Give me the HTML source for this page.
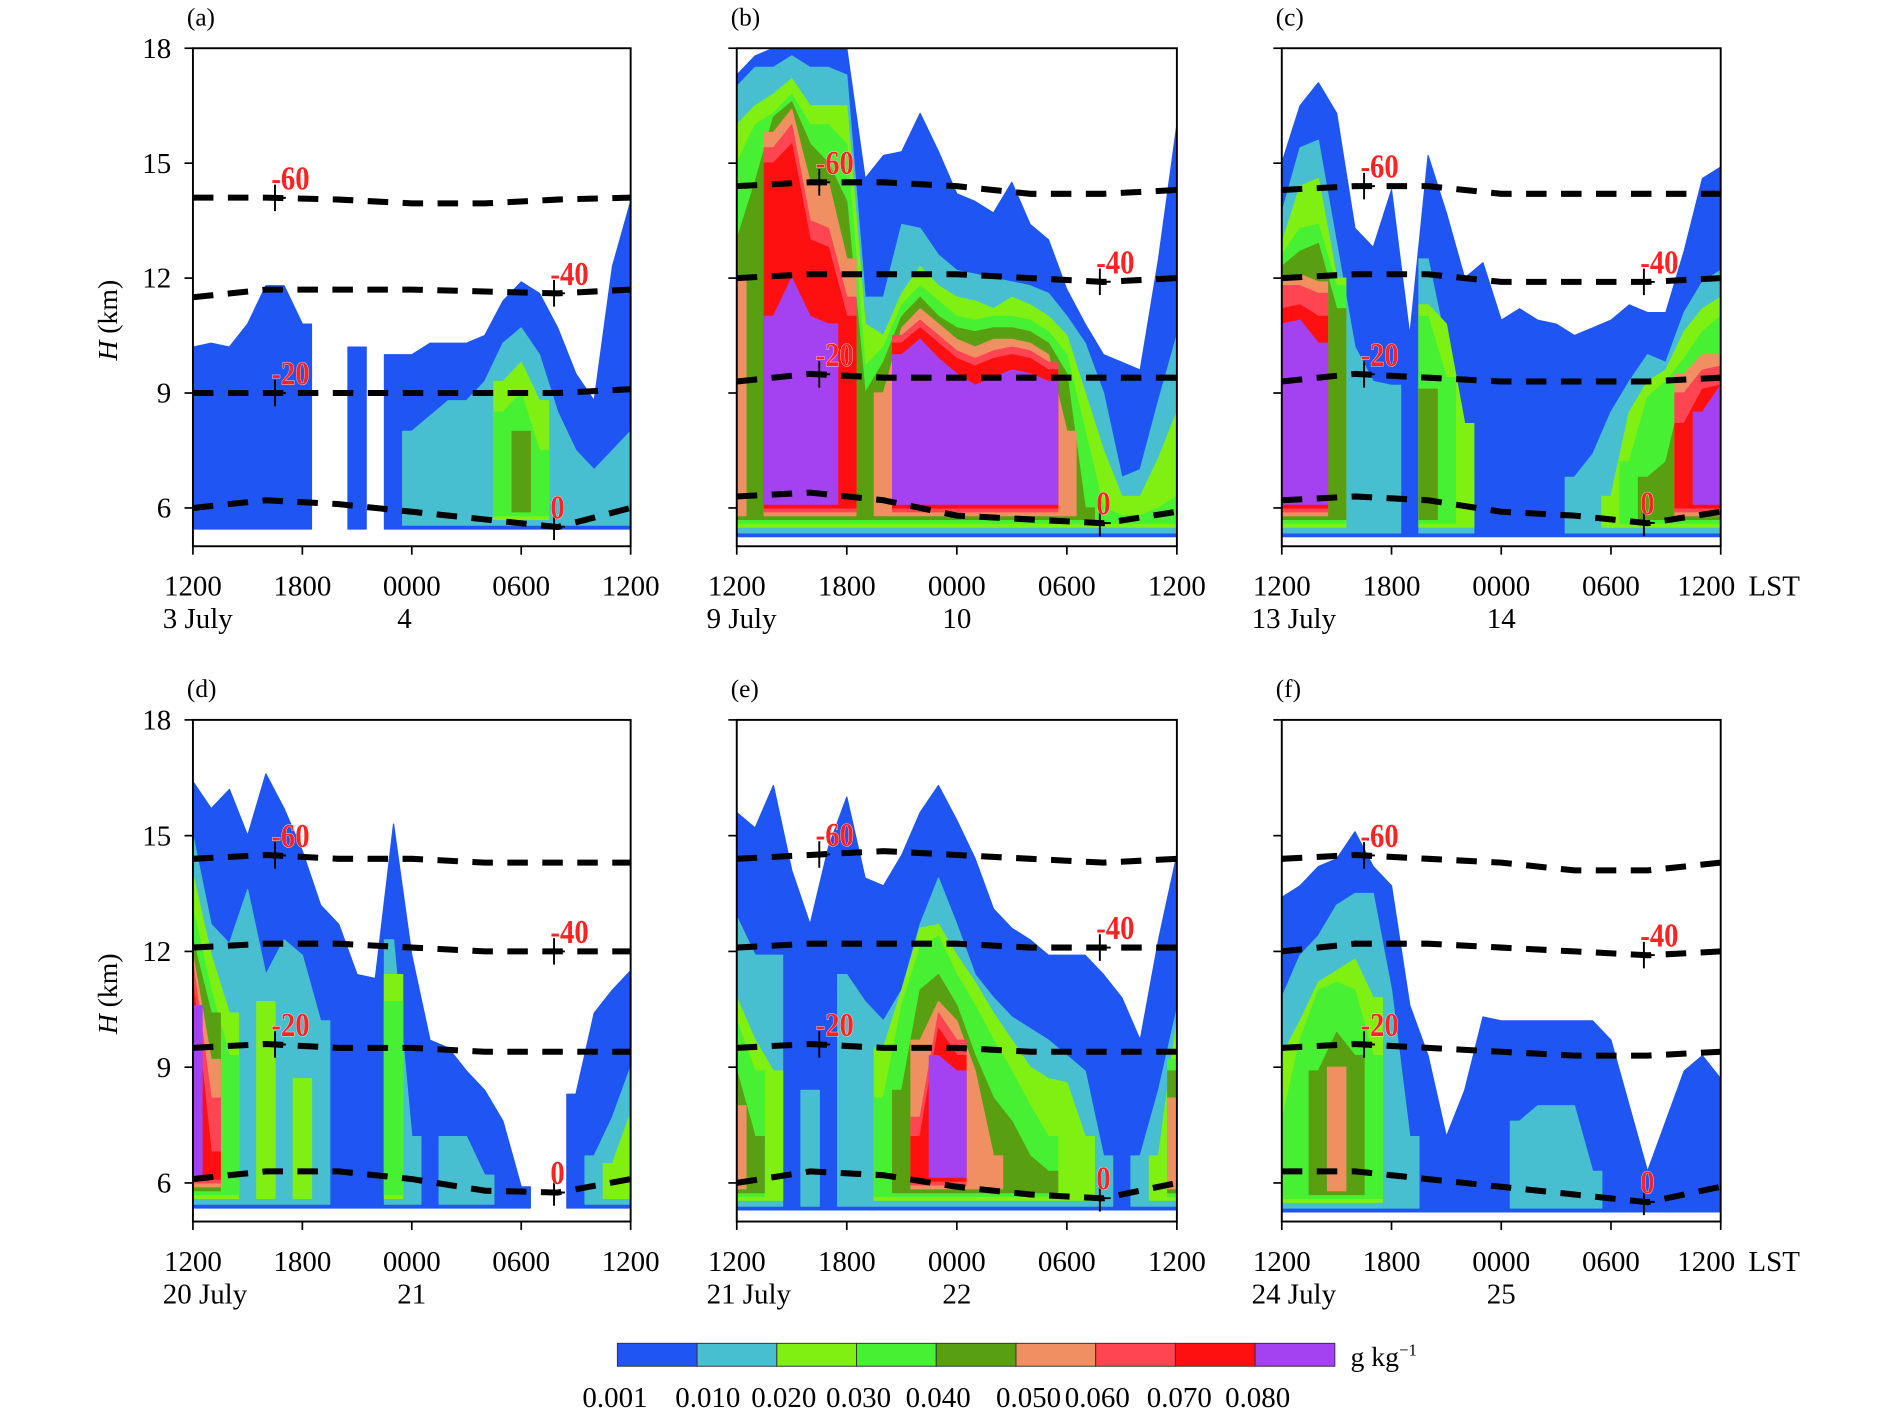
<!DOCTYPE html>
<html><head><meta charset="utf-8">
<style>
html,body{margin:0;padding:0;background:#fff;}
svg{display:block;}
text{font-family:"Liberation Serif",serif;}
</style></head>
<body>
<svg id="fig" xmlns="http://www.w3.org/2000/svg" width="1890" height="1417" viewBox="0 0 1567.4 1175.1" preserveAspectRatio="none"></svg>
<script>
// ---- data ----
const N = null;
const levelColors = ['#1f55f2','#48bfd0','#80f012','#48f033','#58a012','#f09062','#ff4452','#ff1010','#a442f2'];
const levelLabels = ['0.001','0.010','0.020','0.030','0.040','0.050','0.060','0.070','0.080'];
const levelBottoms = [5.25,5.35,5.5,5.6,5.7,5.8,5.9,6.0,6.1];
const hours = [0,1,2,3,4,5,6,7,8,9,10,11,12,13,14,15,16,17,18,19,20,21,22,23,24];
const isoHours = [0,4,8,12,16,20,24];
const isoTemps = ['-60','-40','-20','0'];
const isoMarkHours = [4.5,19.8,4.5,19.8];
const xTickLabels = ['1200','1800','0000','0600','1200'];
const yTicks = [6,9,12,15,18];
const panelLetters = ['(a)','(b)','(c)','(d)','(e)','(f)'];
const startDates = ['3 July','9 July','13 July','20 July','21 July','24 July'];
const nextDates = ['4','10','14','21','22','25'];

// panel (a)
const a_L0 = [10.2,10.3,10.2,10.8,11.8,11.8,10.8,N,N,10.2,N,10.0,10.0,10.3,10.3,10.3,10.5,11.4,11.9,11.6,10.7,9.5,8.8,12.3,14.0];
const a_L1 = [N,N,N,N,N,N,N,N,N,N,N,N,8.0,8.4,8.8,8.8,9.3,10.3,10.7,10.0,8.5,7.5,7.0,7.5,8.0];
const a_L2 = [N,N,N,N,N,N,N,N,N,N,N,N,N,N,N,N,N,9.3,9.8,8.8,N,N,N,N,N];
const a_L3 = [N,N,N,N,N,N,N,N,N,N,N,N,N,N,N,N,N,8.5,9.0,7.5,N,N,N,N,N];
const a_L4 = [N,N,N,N,N,N,N,N,N,N,N,N,N,N,N,N,N,N,8.0,N,N,N,N,N,N];
// panel (b)
const b_L0 = [17.3,17.8,18,18,18,18,18,14.6,15.2,15.3,16.3,15.3,14.2,14.0,13.7,14.5,13.4,13.0,11.7,10.8,10.0,9.8,9.6,12.5,16.0];
const b_L1 = [17.0,17.5,17.5,17.8,17.5,17.5,17.3,11.5,11.5,13.4,13.3,12.6,12.2,12.1,12.0,11.9,11.8,11.6,11.0,10.3,9.0,6.8,7.0,8.8,10.5];
const b_L2 = [16.0,16.5,16.8,17.2,16.5,16.5,16.5,10.8,10.5,11.6,12.3,11.8,11.5,11.4,11.2,11.5,11.3,11.0,10.5,9.0,7.5,6.3,6.3,7.3,8.5];
const b_L3 = [15.0,16.0,16.3,16.8,16.0,16.0,15.5,9.7,10.2,11.3,11.8,11.4,11.0,10.9,11.0,11.0,10.9,10.6,10.0,8.0,6.0,5.8,5.8,6.0,6.3];
const b_L4 = [13.0,14.5,16.2,16.6,15.5,15.0,14.0,9.0,9.8,11.0,11.5,11.0,10.7,10.6,10.7,10.7,10.6,10.3,9.5,6.0,N,N,N,N,N];
const b_L5 = [12.0,N,15.8,16.4,14.5,14.5,12.5,N,9.0,10.7,11.2,10.8,10.4,10.2,10.4,10.4,10.3,10.0,8.0,N,N,N,N,N,N];
const b_L6 = [N,N,15.4,16.0,13.5,13.3,11.5,N,N,10.5,10.9,10.5,10.1,9.9,10.1,10.2,10.1,9.8,N,N,N,N,N,N,N];
const b_L7 = [N,N,15.0,15.5,13.0,12.8,11.0,N,N,10.3,10.7,10.3,9.9,9.7,9.9,10.0,9.9,9.6,N,N,N,N,N,N,N];
const b_L8 = [N,N,11.0,12.0,11.0,10.8,N,N,N,10.0,10.4,9.9,9.5,9.2,9.4,9.6,9.5,9.3,N,N,N,N,N,N,N];
// panel (c)
const c_L0 = [15.0,16.5,17.1,16.3,13.3,12.8,14.3,10.5,15.2,13.7,12.0,12.4,10.9,11.2,10.9,10.8,10.5,10.7,10.9,11.3,11.1,11.1,12.7,14.6,14.9];
const c_L1 = [13.7,15.4,15.6,12.9,10.2,9.3,9.2,N,12.5,10.2,6.8,N,N,N,N,N,6.8,7.4,8.5,9.3,10.0,9.8,11.1,11.9,12.2];
const c_L2 = [12.9,14.4,14.6,12.0,N,N,N,N,11.3,10.8,8.2,N,N,N,N,N,N,N,6.3,8.5,9.3,9.6,10.6,11.2,11.5];
const c_L3 = [12.6,13.3,13.4,11.8,N,N,N,N,11.0,9.4,N,N,N,N,N,N,N,N,N,7.2,8.9,9.3,9.9,10.6,11.0];
const c_L4 = [12.3,12.7,12.9,11.2,N,N,N,N,9.1,N,N,N,N,N,N,N,N,N,N,N,6.8,7.2,9.2,9.7,10.0];
const c_L5 = [12.0,12.1,11.9,N,N,N,N,N,N,N,N,N,N,N,N,N,N,N,N,N,N,N,9.5,10.0,10.0];
const c_L6 = [11.8,11.8,11.6,N,N,N,N,N,N,N,N,N,N,N,N,N,N,N,N,N,N,N,9.0,9.6,9.7];
const c_L7 = [11.2,11.3,11.0,N,N,N,N,N,N,N,N,N,N,N,N,N,N,N,N,N,N,N,8.2,9.1,9.2];
const c_L8 = [10.8,10.9,10.3,N,N,N,N,N,N,N,N,N,N,N,N,N,N,N,N,N,N,N,N,8.5,9.2];
// panel (d)
const d_L0 = [16.4,15.7,16.2,15.0,16.6,15.7,14.6,13.2,12.7,11.4,11.3,15.3,11.9,9.7,9.5,8.9,8.4,7.6,5.9,N,N,8.3,10.4,11.0,11.5];
const d_L1 = [15.0,12.7,12.2,13.6,11.4,12.3,11.9,10.2,N,N,N,12.3,7.2,N,7.2,7.2,6.2,N,N,N,N,N,6.7,7.7,9.0];
const d_L2 = [14.0,11.9,10.4,N,10.7,N,8.7,N,N,N,N,11.4,N,N,N,N,N,N,N,N,N,N,N,6.5,7.8];
const d_L3 = [13.1,11.0,9.3,N,N,N,N,N,N,N,N,10.7,N,N,N,N,N,N,N,N,N,N,N,N,N];
const d_L4 = [12.3,10.4,N,N,N,N,N,N,N,N,N,N,N,N,N,N,N,N,N,N,N,N,N,N,N];
const d_L5 = [11.9,9.2,N,N,N,N,N,N,N,N,N,N,N,N,N,N,N,N,N,N,N,N,N,N,N];
const d_L6 = [11.7,8.2,N,N,N,N,N,N,N,N,N,N,N,N,N,N,N,N,N,N,N,N,N,N,N];
const d_L7 = [11.2,6.8,N,N,N,N,N,N,N,N,N,N,N,N,N,N,N,N,N,N,N,N,N,N,N];
const d_L8 = [10.6,N,N,N,N,N,N,N,N,N,N,N,N,N,N,N,N,N,N,N,N,N,N,N,N];
// panel (e)
const e_L0 = [15.6,15.2,16.3,14.1,12.7,14.7,16.0,13.9,13.7,14.5,15.6,16.3,15.4,14.4,13.1,12.6,12.3,11.9,11.9,11.9,11.4,10.8,9.7,12.3,14.5];
const e_L1 = [12.9,11.9,11.9,N,8.4,N,11.4,10.7,10.2,11.0,12.7,13.9,12.7,11.4,10.8,10.3,10.0,9.7,9.3,8.9,6.7,N,6.7,8.4,10.5];
const e_L2 = [10.8,9.7,8.9,N,N,N,N,N,9.5,11.0,12.6,12.7,11.9,11.2,10.4,9.7,9.0,8.7,8.6,7.2,N,N,N,6.7,10.2];
const e_L3 = [10.2,8.9,N,N,N,N,N,N,8.2,10.6,12.1,12.4,11.4,10.6,9.7,8.9,8.0,7.2,N,N,N,N,N,N,9.2];
const e_L4 = [8.9,7.2,N,N,N,N,N,N,N,8.4,11.0,11.4,10.6,9.3,8.2,7.6,6.7,6.3,N,N,N,N,N,N,8.9];
const e_L5 = [8.0,N,N,N,N,N,N,N,N,N,9.7,10.7,10.2,8.9,6.7,N,N,N,N,N,N,N,N,N,8.2];
const e_L6 = [N,N,N,N,N,N,N,N,N,N,7.7,10.4,9.7,N,N,N,N,N,N,N,N,N,N,N,N];
const e_L7 = [N,N,N,N,N,N,N,N,N,N,7.2,10.0,9.3,N,N,N,N,N,N,N,N,N,N,N,N];
const e_L8 = [N,N,N,N,N,N,N,N,N,N,N,9.3,8.9,N,N,N,N,N,N,N,N,N,N,N,N];
// panel (f)
const f_L0 = [13.4,13.7,14.2,14.4,15.1,14.2,13.7,10.6,9.3,7.2,8.4,10.3,10.2,10.2,10.2,10.2,10.2,10.2,9.7,8.0,6.3,7.6,8.9,9.3,8.7];
const f_L1 = [10.8,11.9,12.4,13.2,13.5,13.5,11.0,7.2,N,N,N,N,N,7.6,8.0,8.0,8.0,6.3,N,N,N,N,N,N,N];
const f_L2 = [9.3,10.2,11.2,11.5,11.8,10.8,N,N,N,N,N,N,N,N,N,N,N,N,N,N,N,N,N,N,N];
const f_L3 = [7.6,9.7,11.0,11.2,11.0,9.3,N,N,N,N,N,N,N,N,N,N,N,N,N,N,N,N,N,N,N];
const f_L4 = [N,N,8.9,9.9,9.3,N,N,N,N,N,N,N,N,N,N,N,N,N,N,N,N,N,N,N,N];
const f_L5 = [N,N,N,9.0,N,N,N,N,N,N,N,N,N,N,N,N,N,N,N,N,N,N,N,N,N];

// isotherms per panel: -60, -40, -20, 0 (km at isoHours)
const a_iso = [[14.1,14.1,14.05,13.95,13.95,14.05,14.1],[11.5,11.7,11.7,11.7,11.65,11.6,11.7],[9.0,9.0,9.0,9.0,9.0,9.0,9.1],[6.0,6.2,6.1,5.9,5.7,5.5,6.0]];
const b_iso = [[14.4,14.5,14.5,14.4,14.2,14.2,14.3],[12.0,12.1,12.1,12.1,12.0,11.9,12.0],[9.3,9.5,9.4,9.4,9.4,9.4,9.4],[6.3,6.4,6.2,5.8,5.7,5.6,5.9]];
const c_iso = [[14.3,14.4,14.4,14.2,14.2,14.2,14.2],[12.0,12.1,12.1,11.9,11.9,11.9,12.0],[9.3,9.5,9.4,9.3,9.3,9.3,9.4],[6.2,6.3,6.2,5.9,5.8,5.6,5.9]];
const d_iso = [[14.4,14.5,14.4,14.4,14.3,14.3,14.3],[12.1,12.2,12.2,12.1,12.0,12.0,12.0],[9.5,9.6,9.5,9.5,9.4,9.4,9.4],[6.1,6.3,6.3,6.1,5.8,5.75,6.1]];
const e_iso = [[14.4,14.5,14.6,14.5,14.4,14.3,14.4],[12.1,12.2,12.2,12.2,12.1,12.1,12.1],[9.5,9.6,9.5,9.5,9.4,9.4,9.4],[6.0,6.3,6.2,5.9,5.7,5.6,6.0]];
const f_iso = [[14.4,14.5,14.4,14.3,14.1,14.1,14.3],[12.0,12.2,12.2,12.1,12.0,11.9,12.0],[9.5,9.6,9.5,9.4,9.3,9.3,9.4],[6.3,6.3,6.1,5.9,5.7,5.5,5.9]];

const panels = [
 {x0:160,x1:523,yt:40,yb:453,levels:[a_L0,a_L1,a_L2,a_L3,a_L4],iso:a_iso,base:0.2,ylab:true,lst:false},
 {x0:611,x1:976,yt:40,yb:453,levels:[b_L0,b_L1,b_L2,b_L3,b_L4,b_L5,b_L6,b_L7,b_L8],iso:b_iso,base:0,ylab:false,lst:false},
 {x0:1063,x1:1427,yt:40,yb:453,levels:[c_L0,c_L1,c_L2,c_L3,c_L4,c_L5,c_L6,c_L7,c_L8],iso:c_iso,base:0,ylab:false,lst:true},
 {x0:160,x1:523,yt:597,yb:1013,levels:[d_L0,d_L1,d_L2,d_L3,d_L4,d_L5,d_L6,d_L7,d_L8],iso:d_iso,base:0.1,ylab:true,lst:false},
 {x0:611,x1:976,yt:597,yb:1013,levels:[e_L0,e_L1,e_L2,e_L3,e_L4,e_L5,e_L6,e_L7,e_L8],iso:e_iso,base:0.05,ylab:false,lst:false},
 {x0:1063,x1:1427,yt:597,yb:1013,levels:[f_L0,f_L1,f_L2,f_L3,f_L4,f_L5],iso:f_iso,base:0,ylab:false,lst:true}
];

// ---- drawing ----
const NS='http://www.w3.org/2000/svg';
const svg=document.getElementById('fig');
function mk(tag,attrs,parent){const e=document.createElementNS(NS,tag);for(const k in attrs)e.setAttribute(k,attrs[k]);(parent||svg).appendChild(e);return e;}
const EXT=0.5;

panels.forEach((p,pi)=>{
  const g=mk('g',{});
  
  
  const xs=h=>p.x0+(p.x1-p.x0)*h/24;
  const ys=k=>p.yb-(p.yb-p.yt)*(k-5)/13;
  const cid='clip'+pi;
  const cp=mk('clipPath',{id:cid},g);
  mk('rect',{x:p.x0,y:p.yt,width:p.x1-p.x0,height:p.yb-p.yt},cp);
  const field=mk('g',{'clip-path':'url(#'+cid+')'},g);
  
  
  p.levels.forEach((arr,li)=>{
    const bot=levelBottoms[li]+p.base;
    let i=0;
    while(i<arr.length){
      if(arr[i]===null){i++;continue;}
      let j=i;while(j+1<arr.length&&arr[j+1]!==null)j++;
      const h0=Math.max(0,hours[i]-EXT),h1=Math.min(24,hours[j]+EXT);
      let d='M'+xs(h0)+','+ys(bot)+' L'+xs(h0)+','+ys(arr[i]);
      for(let k=i;k<=j;k++)d+=' L'+xs(hours[k])+','+ys(arr[k]);
      d+=' L'+xs(h1)+','+ys(arr[j])+' L'+xs(h1)+','+ys(bot)+' Z';
      const path=mk('path',{d:d,fill:levelColors[li],stroke:levelColors[li],'stroke-width':1,'stroke-linejoin':'round'},field);
      
      
      i=j+1;
    }
  });
  // isotherms
  p.iso.forEach((vals,ti)=>{
    let d='';
    vals.forEach((v,k)=>{d+=(k?' L':'M')+xs(isoHours[k])+','+ys(v);});
    const ln=mk('path',{d:d,fill:'none',stroke:'#000','stroke-width':5,'stroke-dasharray':'17 12'},field);
    
    
    const mh=isoMarkHours[ti];
    let k=0;while(k<isoHours.length-2&&isoHours[k+1]<mh)k++;
    const t=(mh-isoHours[k])/(isoHours[k+1]-isoHours[k]);
    const mv=vals[k]+t*(vals[k+1]-vals[k]);
    const cx=xs(mh),cy=ys(mv);
    const cr=mk('path',{d:'M'+(cx-9)+','+cy+' H'+(cx+9)+' M'+cx+','+(cy-11)+' V'+(cy+11),stroke:'#000','stroke-width':1.6,fill:'none'},g);
    
    
    const lb=mk('text',{x:cx-3,y:cy-7,'font-size':28,'font-weight':'bold',fill:'#ff2222',stroke:'#fff','stroke-width':0.6,'paint-order':'stroke',transform:'translate('+(cx-3)+',0) scale(0.85,1) translate('+(-(cx-3))+',0)'},g);
    lb.textContent=isoTemps[ti];
    
    
  });
  // frame
  const fr=mk('rect',{x:p.x0,y:p.yt,width:p.x1-p.x0,height:p.yb-p.yt,fill:'none',stroke:'#000','stroke-width':1.6},g);
  
  
  // y ticks
  yTicks.forEach(v=>{
    const tk=mk('line',{x1:p.x0-7,x2:p.x0,y1:ys(v),y2:ys(v),stroke:'#000','stroke-width':1.4},g);
    
    
    if(p.ylab){
      const t=mk('text',{x:p.x0-18,y:ys(v)+8,'text-anchor':'end','font-size':24},g);
      t.textContent=v;
      
      
    }
  });
  // x ticks
  xTickLabels.forEach((lab,k)=>{
    const x=xs(k*6);
    const tk=mk('line',{x1:x,x2:x,y1:p.yb,y2:p.yb+7,stroke:'#000','stroke-width':1.4},g);
    
    
    const t=mk('text',{x:(k===4&&p.lst)?x-12:x,y:p.yb+41,'text-anchor':'middle','font-size':24},g);
    t.textContent=lab;
    
    
  });
  const d1=mk('text',{x:p.x0-25,y:p.yb+68,'font-size':24},g);
  d1.textContent=startDates[pi];
  
  
  const d2=mk('text',{x:xs(12)-12,y:p.yb+68,'font-size':24},g);
  d2.textContent=nextDates[pi];
  
  
  if(p.lst){
    const ls=mk('text',{x:p.x1+23,y:p.yb+41,'font-size':24},g);
    ls.textContent='LST';
    
    
  }
  const pl=mk('text',{x:p.x0-5,y:p.yt-19,'font-size':21},g);
  pl.textContent=panelLetters[pi];
  
  
  if(p.ylab){
    const yt=mk('text',{x:0,y:0,'font-size':23,'text-anchor':'middle',transform:'translate('+(p.x0-63)+','+(ys(10.9))+') rotate(-90)'},g);
    const ti=mk('tspan',{'font-style':'italic'},yt);ti.textContent='H';
    const t2=mk('tspan',{},yt);t2.textContent=' (km)';
    
    
  }
});

// colorbar
const cb=mk('g',{});


const cbX0=512,cbX1=1107,cbY=1114,cbH=19;
const bw=(cbX1-cbX0)/levelColors.length;
levelColors.forEach((c,i)=>{
  const r=mk('rect',{x:cbX0+i*bw,y:cbY,width:bw,height:cbH,fill:c,stroke:'#333','stroke-width':0.8},cb);
  
  
});
const cbLabelX=[510,587,650,712,778,853,910,978,1043];
levelLabels.forEach((l,i)=>{
  const t=mk('text',{x:cbLabelX[i],y:1167,'text-anchor':'middle','font-size':24},cb);
  t.textContent=l;
  
  
});
const un=mk('text',{x:1120,y:1133,'font-size':23},cb);
un.textContent='g kg';
const sup=mk('tspan',{dy:-9,'font-size':14},un);sup.textContent='−1';


</script>
</body></html>
